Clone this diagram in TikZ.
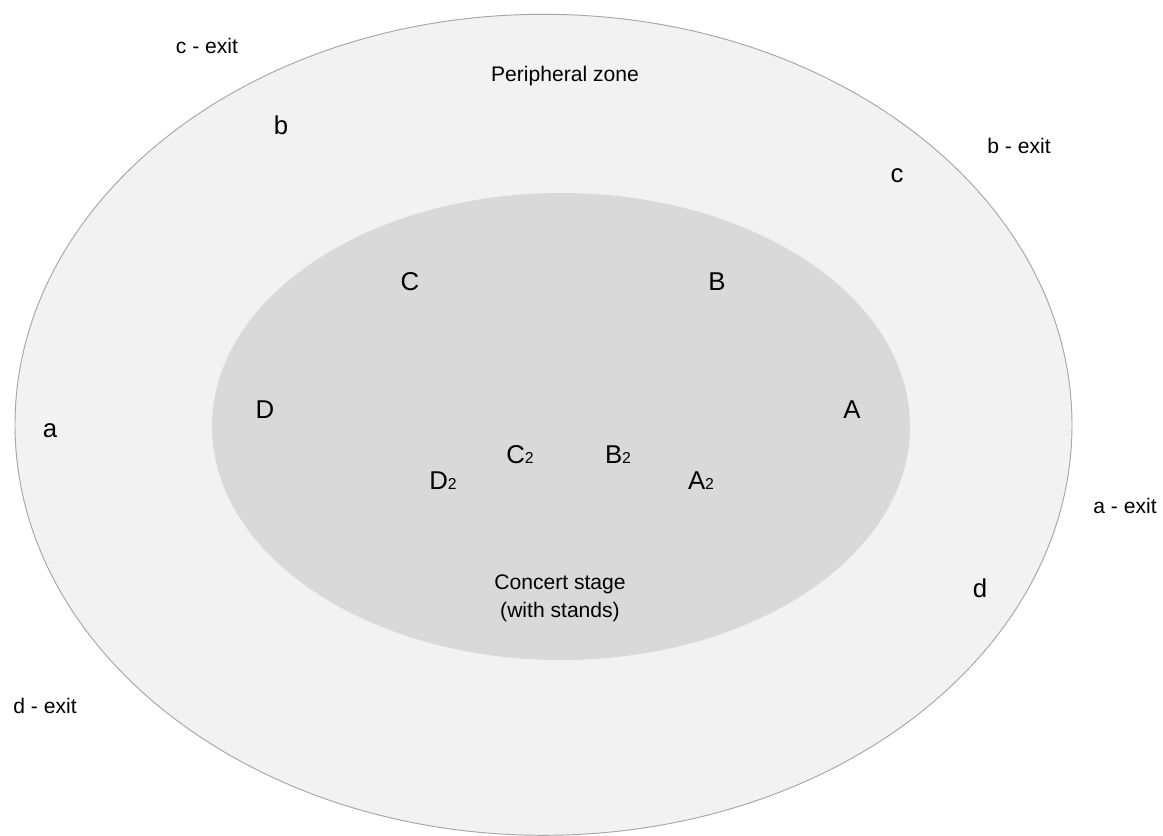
\documentclass[tikz,border=0pt]{standalone}
\usepackage{fontspec}
\setmainfont{Liberation Sans}
\usetikzlibrary{positioning}

\definecolor{zoneFill}{HTML}{F2F2F2}
\definecolor{zoneLine}{HTML}{A6A6A6}
\definecolor{stageFill}{HTML}{D9D9D9}

\newcommand{\seat}[1]{#1{\fontsize{13.5}{15}\selectfont 2}}

\begin{document}
\begin{tikzpicture}[x=0.03cm,y=-0.03cm,
    label/.style={inner sep=0pt,font=\fontsize{18}{22}\selectfont},
    gate/.style={inner sep=0pt,font=\fontsize{22}{26}\selectfont}]
\useasboundingbox (0,0) rectangle (1163,836);
% zones
\draw[fill=zoneFill,draw=zoneLine,line width=0.8pt] (543.5,424.8) ellipse [x radius=528.5,y radius=410.5];
\fill[stageFill] (561,426.5) ellipse [x radius=349,y radius=233.5];

% exits
\node[label] (cexit) at (207,46) {c - exit};
\node[label] (bexit) at (1019,146) {b - exit};
\node[label] (aexit) at (1125,506) {a - exit};
\node[label] (dexit) at (45,706) {d - exit};
\node[label] (periph) at (565,76) {Peripheral zone};
\node[label,align=center] (stage) at (560,598) {Concert stage\\[2pt](with stands)};

% peripheral gates
\node[gate] (b) at (281,125) {b};
\node[gate] (c) at (897,176) {c};
\node[gate] (a) at (50,431) {a};
\node[gate] (d) at (980,588) {d};

% stage gates
\node[gate] (C) at (410,282) {C};
\node[gate] (B) at (717,282) {B};
\node[gate] (D) at (265,410) {D};
\node[gate] (A) at (852,410) {A};
\node[gate] (C2) at (520,455) {\seat{C}};
\node[gate] (B2) at (618,455) {\seat{B}};
\node[gate] (D2) at (443,481) {\seat{D}};
\node[gate] (A2) at (701,481) {\seat{A}};
\end{tikzpicture}
\end{document}
